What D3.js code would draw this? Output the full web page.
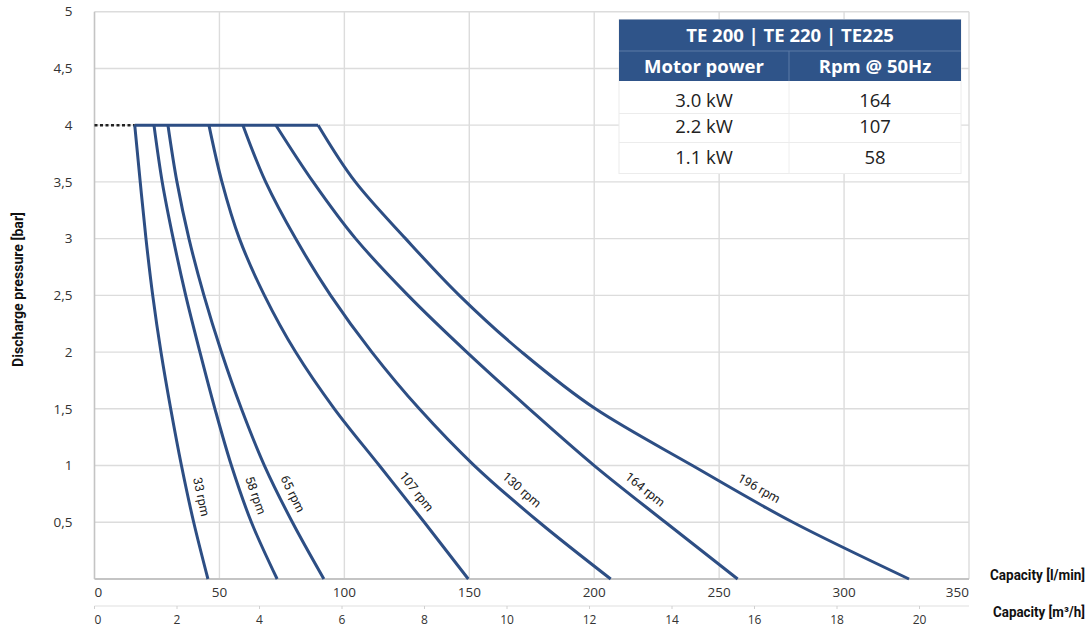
<!DOCTYPE html>
<html>
<head>
<meta charset="utf-8">
<script src="https://cdn.jsdelivr.net/npm/d3@7"></script>
<style>
  body { margin: 0; background: #fff; }
  .tick-label { font-family: "Open Sans", sans-serif; font-size: 13px; fill: #333; }
  .title { font-family: "Liberation Sans Narrow", "Roboto", sans-serif; font-weight: bold; font-size: 14.5px; fill: #111; }
  .curve-label { font-family: "Roboto", sans-serif; font-size: 12.5px; fill: #222; }
  .tbl { font-family: "Open Sans", sans-serif; }
</style>
</head>
<body>
<div id="chart"></div>
<script>
// pressure steps (bar) at which each curve was read
const pressureLevels = [4, 3.5, 3, 2.5, 2, 1.5, 1, 0.5, 0];
// capacity in l/min for each speed
const rpm33  = [16.1, 18.3, 20.6, 23.3, 26.6, 30.5, 34.8, 39.7, 45.4];
const rpm58  = [23.8, 27.1, 31.5, 36.5, 42.2, 48.2, 54.8, 62.8, 73.1];
const rpm65  = [29.4, 33.0, 37.8, 43.8, 50.8, 58.8, 68.0, 79.2, 91.8];
const rpm107 = [45.8, 51.0, 58.0, 68.0, 80.5, 96.0, 114.0, 132.0, 149.6];
const rpm130 = [59.4, 68.5, 80.5, 94.5, 111.0, 130.0, 152.0, 178.0, 206.6];
const rpm164 = [72.6, 87.5, 104.5, 125.5, 149.0, 174.0, 200.0, 228.5, 257.4];
const rpm196 = [89.5, 104.4, 124.5, 146.0, 171.0, 200.5, 239.3, 279.5, 326.0];
const curveNames = ["33 rpm", "58 rpm", "65 rpm", "107 rpm", "130 rpm", "164 rpm", "196 rpm"];
const maxPressure = 4;

// axes
const flowTicks = [0, 50, 100, 150, 200, 250, 300, 350];
const m3hTicks = [0, 2, 4, 6, 8, 10, 12, 14, 16, 18, 20];
const m3hMax = 21.2;
const pressureTicks = [0.5, 1, 1.5, 2, 2.5, 3, 3.5, 4, 4.5, 5];

// table
const tableTitle = "TE 200 | TE 220 | TE225";
const tableHead = ["Motor power", "Rpm @ 50Hz"];
const motorPower = ["3.0 kW", "2.2 kW", "1.1 kW"];
const motorRpm = ["164", "107", "58"];

const margin = { top: 11.7, right: 123, bottom: 53, left: 94.5 };
const W = 1092, H = 632;
const width = W - margin.left - margin.right;
const height = H - margin.top - margin.bottom;

const svg = d3.select("#chart").append("svg").attr("width", W).attr("height", H);
const g = svg.append("g").attr("transform", `translate(${margin.left},${margin.top})`);

const x = d3.scaleLinear().domain([0, 350]).range([0, width]);
const xm = d3.scaleLinear().domain([0, m3hMax]).range([0, width]);
const y = d3.scaleLinear().domain([0, 5]).range([height, 0]);

const grid = "#dcdcdc";

// grid
g.selectAll(".hgrid").data(pressureTicks).enter().append("line")
  .attr("x1", 0).attr("x2", width)
  .attr("y1", d => y(d)).attr("y2", d => y(d))
  .attr("stroke", grid).attr("stroke-width", 1.4);
g.selectAll(".vgrid").data(flowTicks.slice(1)).enter().append("line")
  .attr("x1", d => x(d)).attr("x2", d => x(d))
  .attr("y1", 0).attr("y2", height)
  .attr("stroke", grid).attr("stroke-width", 1.4);
// frame
g.append("line").attr("x1", 0).attr("x2", 0).attr("y1", 0).attr("y2", height)
  .attr("stroke", "#c4c4c4").attr("stroke-width", 1.6);
g.append("line").attr("x1", 0).attr("x2", width).attr("y1", height).attr("y2", height)
  .attr("stroke", "#c4c4c4").attr("stroke-width", 2);

// y tick labels
g.selectAll(".ylab").data(pressureTicks).enter().append("text")
  .attr("class", "tick-label")
  .attr("x", -22).attr("y", d => y(d)).attr("dy", "0.35em")
  .attr("text-anchor", "end")
  .style("font-size", "13.5px")
  .text(d => String(d).replace(".", ","));

// x l/min labels
g.selectAll(".xlab").data(flowTicks).enter().append("text")
  .attr("class", "tick-label")
  .attr("x", d => x(d)).attr("y", height + 18)
  .attr("text-anchor", (d, i) => i === 0 ? "start" : (i === flowTicks.length - 1 ? "end" : "middle"))
  .style("font-size", "13.5px")
  .text(d => d);

// second axis m3/h
const ax2 = height + 27;
g.append("line").attr("x1", 0).attr("x2", width).attr("y1", ax2).attr("y2", ax2)
  .attr("stroke", "#e0e0e0").attr("stroke-width", 1.2);
g.selectAll(".m3tick").data(m3hTicks).enter().append("line")
  .attr("x1", d => xm(d)).attr("x2", d => xm(d))
  .attr("y1", ax2).attr("y2", ax2 + 3)
  .attr("stroke", "#d0d0d0").attr("stroke-width", 1);
g.selectAll(".m3lab").data(m3hTicks).enter().append("text")
  .attr("class", "tick-label")
  .attr("x", d => xm(d)).attr("y", ax2 + 18)
  .attr("text-anchor", (d, i) => i === 0 ? "start" : "middle")
  .style("font-size", "12px")
  .text(d => d);

// axis titles (condensed by fitting to the reference width)
svg.append("text").attr("class", "title").attr("x", 990).attr("y", 580)
  .attr("textLength", 95).attr("lengthAdjust", "spacingAndGlyphs")
  .text("Capacity [l/min]");
svg.append("text").attr("class", "title").attr("x", 993).attr("y", 617)
  .attr("textLength", 92).attr("lengthAdjust", "spacingAndGlyphs")
  .text("Capacity [m³/h]");
svg.append("text").attr("class", "title")
  .attr("transform", "translate(23,290) rotate(-90)")
  .attr("x", -77)
  .attr("textLength", 155).attr("lengthAdjust", "spacingAndGlyphs")
  .style("font-size", "14px")
  .text("Discharge pressure [bar]");

// curves
const series = [rpm33, rpm58, rpm65, rpm107, rpm130, rpm164, rpm196].map((vals, i) => ({
  name: curveNames[i],
  points: vals.map((q, j) => ({ q: q, p: pressureLevels[j] }))
}));

const lineColor = "#2d4e84";
const line = d3.line().x(d => x(d.q)).y(d => y(d.p)).curve(d3.curveMonotoneY);

// max pressure line: dashed up to the first curve, solid across the curve tops
const capStart = d3.min(series, s => s.points[0].q);
const capEnd = d3.max(series, s => s.points[0].q);
g.append("line")
  .attr("x1", x(0)).attr("x2", x(capStart))
  .attr("y1", y(maxPressure)).attr("y2", y(maxPressure))
  .attr("stroke", "#222").attr("stroke-width", 2.5).attr("stroke-dasharray", "3,2.5");
g.append("line")
  .attr("x1", x(capStart)).attr("x2", x(capEnd))
  .attr("y1", y(maxPressure)).attr("y2", y(maxPressure))
  .attr("stroke", lineColor).attr("stroke-width", 3);

g.selectAll(".curve").data(series).enter().append("path")
  .attr("class", "curve")
  .attr("fill", "none")
  .attr("stroke", lineColor)
  .attr("stroke-width", 3)
  .attr("stroke-linejoin", "round")
  .attr("d", d => line(d.points));

// curve labels, placed along the curve between 1 and 0.5 bar
g.selectAll(".curve-label").data(series).enter().append("text")
  .attr("class", "curve-label")
  .attr("text-anchor", "middle")
  .attr("dy", "0.35em")
  .attr("transform", d => {
    const a = d.points[6], b = d.points[7];
    const t = 0.6;
    const px = x(a.q + (b.q - a.q) * t), py = y(a.p + (b.p - a.p) * t);
    const dx = x(b.q) - x(a.q), dy = y(b.p) - y(a.p);
    const len = Math.hypot(dx, dy);
    const nx = dy / len, ny = -dx / len;
    const off = 13;
    const ang = Math.atan2(dy, dx) * 180 / Math.PI;
    return `translate(${px + nx * off},${py + ny * off}) rotate(${ang})`;
  })
  .text(d => d.name);

// table
const tx = 619, ty = 19.5, tw = 342, colX = 789;
const tbl = svg.append("g").attr("class", "tbl");
tbl.append("rect").attr("x", tx).attr("y", ty).attr("width", tw).attr("height", 154)
  .attr("fill", "#fff").attr("stroke", "#ececec");
tbl.append("rect").attr("x", tx).attr("y", ty).attr("width", tw).attr("height", 61.5)
  .attr("fill", "#2f5489");
tbl.append("line").attr("x1", tx).attr("x2", tx + tw).attr("y1", ty + 31.5).attr("y2", ty + 31.5)
  .attr("stroke", "#5d7aa6").attr("stroke-width", 1);
tbl.append("line").attr("x1", colX).attr("x2", colX).attr("y1", ty + 31.5).attr("y2", ty + 61.5)
  .attr("stroke", "#5d7aa6").attr("stroke-width", 1);
tbl.append("line").attr("x1", colX).attr("x2", colX).attr("y1", ty + 61.5).attr("y2", ty + 154)
  .attr("stroke", "#eeeeee").attr("stroke-width", 1);
[ty + 94, ty + 123].forEach(yy => {
  tbl.append("line").attr("x1", tx).attr("x2", tx + tw).attr("y1", yy).attr("y2", yy)
    .attr("stroke", "#ececec").attr("stroke-width", 1);
});
tbl.append("text").attr("x", tx + tw / 2).attr("y", ty + 16).attr("dy", "0.36em")
  .attr("text-anchor", "middle").attr("fill", "#fff")
  .style("font-weight", "700").style("font-size", "18.5px").text(tableTitle);
tbl.selectAll(".th").data(tableHead).enter().append("text")
  .attr("x", (d, i) => i === 0 ? (tx + colX) / 2 : (colX + tx + tw) / 2)
  .attr("y", ty + 47).attr("dy", "0.36em")
  .attr("text-anchor", "middle").attr("fill", "#fff")
  .style("font-weight", "700").style("font-size", "18.5px").text(d => d);
const rowY = [ty + 81, ty + 107, ty + 138];
tbl.selectAll(".pw").data(motorPower).enter().append("text")
  .attr("x", (tx + colX) / 2).attr("y", (d, i) => rowY[i]).attr("dy", "0.36em")
  .attr("text-anchor", "middle").attr("fill", "#222").style("font-size", "18.5px").text(d => d);
tbl.selectAll(".rp").data(motorRpm).enter().append("text")
  .attr("x", (colX + tx + tw) / 2).attr("y", (d, i) => rowY[i]).attr("dy", "0.36em")
  .attr("text-anchor", "middle").attr("fill", "#222").style("font-size", "18.5px").text(d => d);
</script>
</body>
</html>
